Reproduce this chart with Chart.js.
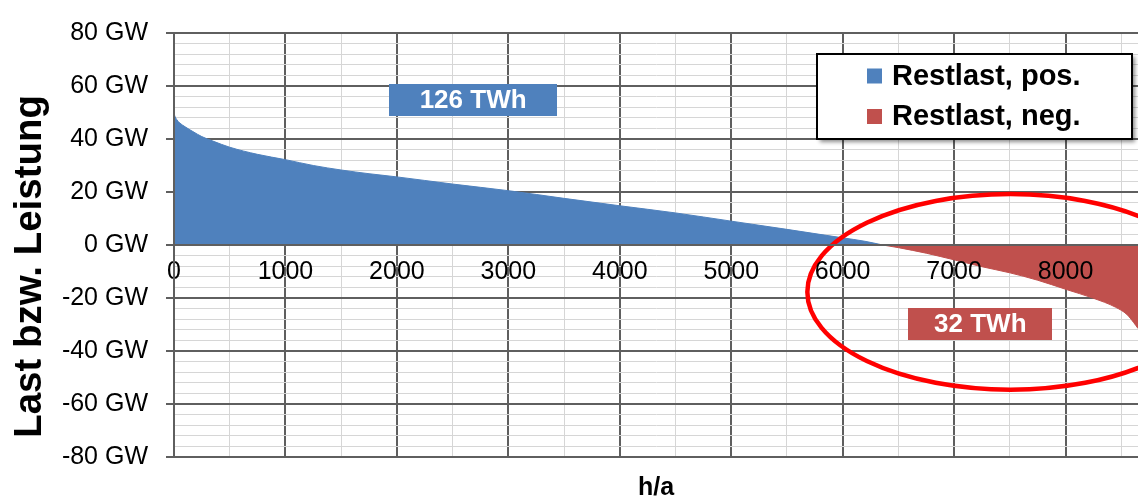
<!DOCTYPE html>
<html><head><meta charset="utf-8">
<script src="https://cdn.jsdelivr.net/npm/chart.js@4.4.1/dist/chart.umd.min.js"></script>
<style>html,body{margin:0;padding:0;background:#fff;overflow:hidden}canvas{display:block}</style>
</head><body>
<canvas id="c" width="1138" height="498"></canvas>
<script>
// ---- data ----
const posHours  = [0, 8, 25, 50, 100, 170, 250, 350, 500, 750, 1000, 1250, 1500, 1750, 2000, 2500, 3000, 3500, 4000, 4500, 5000, 5500, 6000, 6200, 6360];
const posValues = [49.6, 48.6, 47.3, 46.1, 44.6, 42.8, 40.9, 39.2, 36.9, 34.2, 32.2, 30.0, 28.3, 26.9, 25.7, 23.0, 20.5, 17.6, 14.8, 12.1, 9.0, 5.9, 2.7, 1.4, 0];
const negHours  = [6360, 6500, 6750, 7000, 7250, 7500, 7750, 8000, 8250, 8450, 8550, 8610, 8650];
const negValues = [0, -1.0, -3.1, -5.6, -8.2, -10.5, -13.3, -16.7, -20.1, -23.5, -26.2, -29.2, -31.5];
const seriesLabels = ['Restlast, pos.', 'Restlast, neg.'];
const energyTexts = ['126 TWh', '32 TWh'];
const xTickValues = [0, 500, 1000, 1500, 2000, 2500, 3000, 3500, 4000, 4500, 5000, 5500, 6000, 6500, 7000, 7500, 8000, 8500];
const yAxisTitle = 'Last bzw. Leistung';
const xAxisTitle = 'h/a';
const yUnit = ' GW';

// ---- styling / layout ----
const FONT = '"Liberation Sans", Arial, Helvetica, sans-serif';
const BLUE = '#4F81BD', RED = '#C0504D';
const MAJOR = '#5f5f5f', MINOR = '#d6d6d6';
Chart.defaults.font.family = FONT;
Chart.defaults.color = '#000';

const boxes = [
  {text: energyTexts[0], h: 2684, v: 54.9, w: 168, hh: 32, color: BLUE},
  {text: energyTexts[1], h: 7235, v: -29.7, w: 144, hh: 32, color: RED}
];
const ellipse = {h: 7505, v: -17.7, rh: 1822, rv: 36.9};

const overlay = {
  id: 'overlay',
  afterDatasetsDraw(chart) {
    const {ctx} = chart; const x = chart.scales.x, y = chart.scales.y;
    ctx.save();
    boxes.forEach(b => {
      const cx = x.getPixelForValue(b.h), cy = y.getPixelForValue(b.v);
      ctx.fillStyle = b.color;
      ctx.fillRect(Math.round(cx - b.w / 2), Math.round(cy - b.hh / 2), b.w, b.hh);
      ctx.fillStyle = '#fff';
      ctx.font = 'bold 26px ' + FONT;
      ctx.textAlign = 'center'; ctx.textBaseline = 'middle';
      ctx.fillText(b.text, cx, cy + 1);
    });
    const ex = x.getPixelForValue(ellipse.h), ey = y.getPixelForValue(ellipse.v);
    const rx = Math.abs(x.getPixelForValue(ellipse.h + ellipse.rh) - ex);
    const ry = Math.abs(y.getPixelForValue(ellipse.v + ellipse.rv) - ey);
    ctx.beginPath();
    ctx.ellipse(ex, ey, rx, ry, 0, 0, Math.PI * 2);
    ctx.strokeStyle = '#ff0000'; ctx.lineWidth = 4.5; ctx.stroke();
    ctx.restore();
  },
  afterDraw(chart) {
    const {ctx, chartArea} = chart;
    const lw = 315, lh = 85;
    const lx = chartArea.right - 321, ly = chartArea.top + 21;
    ctx.save();
    ctx.shadowColor = 'rgba(0,0,0,0.45)'; ctx.shadowBlur = 4; ctx.shadowOffsetX = 3; ctx.shadowOffsetY = 3;
    ctx.fillStyle = '#fff'; ctx.fillRect(lx, ly, lw, lh);
    ctx.shadowColor = 'rgba(0,0,0,0)'; ctx.shadowBlur = 0; ctx.shadowOffsetX = 0; ctx.shadowOffsetY = 0;
    ctx.strokeStyle = '#000'; ctx.lineWidth = 2; ctx.strokeRect(lx, ly, lw, lh);
    ctx.font = 'bold 29px ' + FONT; ctx.textAlign = 'left'; ctx.textBaseline = 'middle';
    chart.data.datasets.forEach((ds, i) => {
      const rowY = ly + 21.5 + i * 40.5;
      ctx.fillStyle = ds.backgroundColor;
      ctx.fillRect(lx + 50, rowY - 7, 15, 15);
      ctx.fillStyle = '#000';
      ctx.fillText(ds.label, lx + 75, rowY + 1);
    });
    ctx.restore();
  }
};

const isMajor = (v, m) => Math.abs(Math.round(v) % m) === 0;

new Chart(document.getElementById('c'), {
  type: 'line',
  data: {
    datasets: [
      {label: seriesLabels[0], data: posHours.map((h, i) => ({x: h, y: posValues[i]})),
       backgroundColor: BLUE, borderColor: BLUE, borderWidth: 1, fill: 'origin', pointRadius: 0, cubicInterpolationMode: 'monotone'},
      {label: seriesLabels[1], data: negHours.map((h, i) => ({x: h, y: negValues[i]})),
       backgroundColor: RED, borderColor: RED, borderWidth: 1, fill: 'origin', pointRadius: 0, cubicInterpolationMode: 'monotone'}
    ]
  },
  options: {
    responsive: false, animation: false, devicePixelRatio: 1,
    layout: {padding: {top: 22, left: 0, right: 0, bottom: 0}},
    plugins: {legend: {display: false}, tooltip: {enabled: false}},
    scales: {
      x: {
        type: 'linear', position: {y: 0}, min: 0, max: 8650,
        afterBuildTicks: s => { s.ticks = xTickValues.map(v => ({value: v})); },
        afterFit: s => { s.paddingLeft = 0; s.paddingRight = 0; },
        ticks: {autoSkip: false, maxRotation: 0, minRotation: 0,
                padding: 6, z: 1, font: {size: 25}, color: '#000',
                callback: v => isMajor(v, 1000) ? String(v) : ''},
        grid: {color: c => c.tick && isMajor(c.tick.value, 1000) ? MAJOR : MINOR,
               lineWidth: c => c.tick && isMajor(c.tick.value, 1000) ? 2 : 1,
               tickLength: 6, tickWidth: 2,
               tickColor: c => c.tick && isMajor(c.tick.value, 1000) ? MAJOR : 'rgba(0,0,0,0)'},
        border: {display: true, color: MAJOR, width: 2, z: 1}
      },
      xb: {
        type: 'linear', position: 'bottom', min: 0, max: 8650,
        afterFit: s => { s.height = 41; s.paddingLeft = 0; s.paddingRight = 0; },
        ticks: {display: false}, grid: {display: false, drawTicks: false}, border: {display: false},
        title: {display: true, text: xAxisTitle, color: '#000', font: {size: 25, weight: 'bold', lineHeight: 0.8}, padding: {top: 0, bottom: 0}}
      },
      y: {
        type: 'linear', position: 'left', min: -80, max: 80,
        afterFit: s => { s.width = 174; },
        ticks: {stepSize: 4, autoSkip: false, padding: 18, font: {size: 25}, color: '#000',
                callback: v => isMajor(v, 20) ? Math.round(v) + yUnit : ''},
        grid: {color: c => c.tick && isMajor(c.tick.value, 20) ? MAJOR : MINOR,
               lineWidth: c => c.tick && isMajor(c.tick.value, 20) ? 2 : 1,
               tickLength: 8, tickWidth: 2,
               tickColor: c => c.tick && isMajor(c.tick.value, 20) ? MAJOR : 'rgba(0,0,0,0)'},
        border: {display: true, color: MAJOR, width: 2, z: 1},
        title: {display: true, text: yAxisTitle + '\u00a0\u00a0\u00a0\u00a0', color: '#000',
                font: {size: 38.5, weight: 'bold'}, padding: {top: 7, bottom: 0}}
      }
    }
  },
  plugins: [overlay]
});
</script>
</body></html>
